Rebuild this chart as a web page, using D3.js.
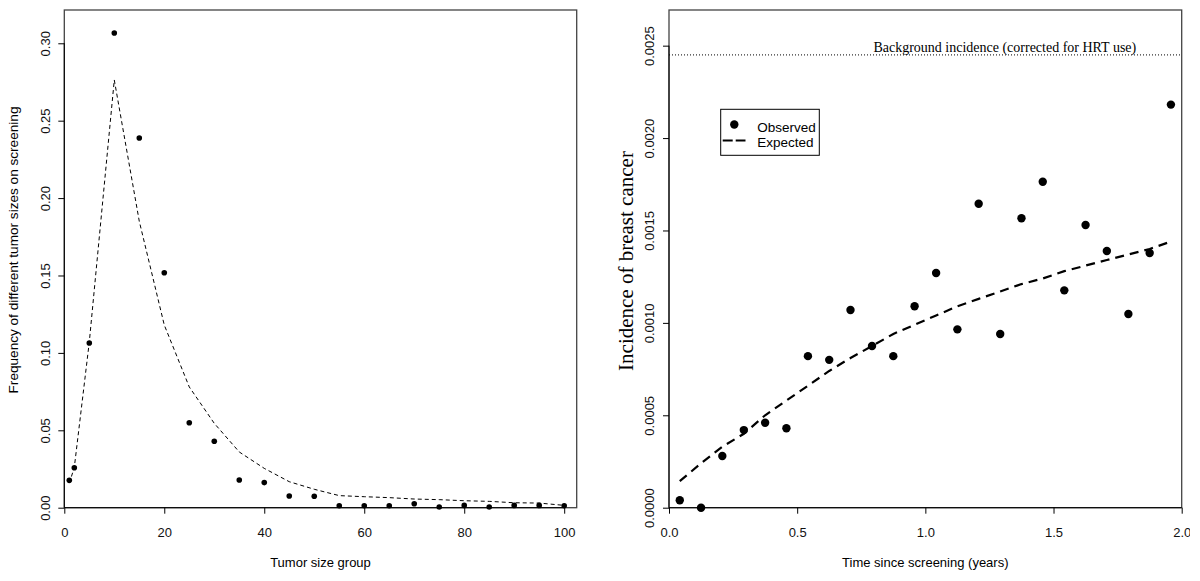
<!DOCTYPE html>
<html><head><meta charset="utf-8">
<script src="https://cdn.jsdelivr.net/npm/d3@7"></script>
<style>body{margin:0;background:#fff}svg{display:block}</style>
</head><body>
<script>
// ---- Left panel data ----
const sizeGroups = [1,2,5,10,15,20,25,30,35,40,45,50,55,60,65,70,75,80,85,90,95,100];
const obsFreq = [0.0177,0.0258,0.1064,0.3066,0.2388,0.1518,0.0549,0.0429,0.0179,0.0162,0.0076,0.0074,0.0013,0.0013,0.0013,0.0026,0.0005,0.0015,0.0005,0.0015,0.0015,0.0013];
const expFreq = [0.0158,0.026,0.107,0.2763,0.185,0.118,0.078,0.0545,0.036,0.0254,0.0168,0.0119,0.0078,0.0071,0.0065,0.0056,0.0052,0.0045,0.0041,0.0032,0.003,0.0015];
const leftXTicks = [0,20,40,60,80,100];
const leftYTicks = [0,0.05,0.10,0.15,0.20,0.25,0.30];

// ---- Right panel data ----
const times = [0.042,0.125,0.208,0.292,0.375,0.458,0.542,0.625,0.708,0.792,0.875,0.958,1.042,1.125,1.208,1.292,1.375,1.458,1.542,1.625,1.708,1.792,1.875,1.958];
const obsInc = [0.00004,0.0000,0.00028,0.00042,0.00046,0.00043,0.00082,0.00080,0.00107,0.000875,0.00082,0.00109,0.00127,0.000965,0.001645,0.00094,0.001566,0.001764,0.001176,0.00153,0.001389,0.001048,0.001378,0.002181];
const expInc = [0.000144,0.00024,0.00033,0.00040,0.00050,0.00058,0.00066,0.00074,0.00081,0.000875,0.00094,0.00099,0.00104,0.00109,0.00113,0.00117,0.00121,0.00124,0.00128,0.00131,0.00134,0.00137,0.00140,0.00144];
const backgroundInc = 0.00245;
const rightXTicks = [0,0.5,1.0,1.5,2.0];
const rightYTicks = [0,0.0005,0.0010,0.0015,0.0020,0.0025];

const SANS = "'Liberation Sans', Arial, sans-serif";
const SERIF = "'Liberation Serif', 'Times New Roman', serif";

const svg = d3.select("body").append("svg").attr("width",1190).attr("height",581);

function panel(o){
  const g = svg.append("g");
  const x = d3.scaleLinear().domain(o.xd).range([o.l,o.r]);
  const y = d3.scaleLinear().domain(o.yd).range([o.b,o.t]);
  g.append("rect").attr("x",o.l).attr("y",o.t).attr("width",o.r-o.l).attr("height",o.b-o.t)
    .attr("fill","none").attr("stroke","#444").attr("stroke-width",1.3);
  const xa = g.append("g").attr("transform",`translate(0,${o.b})`)
    .call(d3.axisBottom(x).tickValues(o.xt).tickFormat(o.xf).tickSize(6).tickPadding(14).tickSizeOuter(0));
  xa.select(".domain").attr("d",`M${x(o.xt[0])},0H${x(o.xt[o.xt.length-1])}`).attr("stroke","#000");
  xa.selectAll("text").attr("font-family",SANS).attr("font-size",13).attr("fill","#111");
  const ya = g.append("g").attr("transform",`translate(${o.l},0)`)
    .call(d3.axisLeft(y).tickValues(o.yt).tickFormat(o.yf).tickSize(6).tickSizeOuter(0));
  ya.select(".domain").attr("d",`M0,${y(o.yt[0])}V${y(o.yt[o.yt.length-1])}`).attr("stroke","#000");
  ya.selectAll(".tick text").attr("font-family",SANS).attr("font-size",13).attr("fill","#111")
    .attr("x",null).attr("dy",null)
    .attr("text-anchor","middle")
    .attr("transform",`translate(${-o.ylabOff},0) rotate(-90)`);
  return {g,x,y};
}

// Left panel
const L = panel({l:64.3,r:576.7,t:10,b:507.7,xd:[0,102.5],yd:[0,0.3215],
  xt:leftXTicks,yt:leftYTicks,xf:d3.format("d"),yf:d3.format(".2f"),ylabOff:14});
L.g.append("path").datum(sizeGroups.map((s,i)=>[s,expFreq[i]]))
  .attr("d",d3.line().x(d=>L.x(d[0])).y(d=>L.y(d[1])))
  .attr("fill","none").attr("stroke","#000").attr("stroke-width",1).attr("stroke-dasharray","4,3");
L.g.selectAll("circle.o").data(sizeGroups).join("circle")
  .attr("cx",d=>L.x(d)).attr("cy",(d,i)=>L.y(obsFreq[i])).attr("r",2.8).attr("fill","#000");
svg.append("text").attr("x",320.5).attr("y",567).attr("text-anchor","middle")
  .attr("font-family",SANS).attr("font-size",13).text("Tumor size group");
svg.append("text").attr("transform","translate(18,250) rotate(-90)").attr("text-anchor","middle")
  .attr("font-family",SANS).attr("font-size",13.6).text("Frequency of different tumor sizes on screening");

// Right panel
const R = panel({l:669,r:1181.7,t:10,b:507.7,xd:[0,2.0],yd:[0,0.002693],
  xt:rightXTicks,yt:rightYTicks,xf:d3.format(".1f"),yf:d3.format(".4f"),ylabOff:15});
R.g.append("line").attr("x1",R.x(0)).attr("x2",R.x(2.0)).attr("y1",R.y(backgroundInc)).attr("y2",R.y(backgroundInc))
  .attr("stroke","#000").attr("stroke-width",1).attr("stroke-dasharray","1,2");
R.g.append("text").attr("x",R.x(1.31)).attr("y",R.y(backgroundInc)-3).attr("text-anchor","middle")
  .attr("font-family",SERIF).attr("font-size",14).text("Background incidence (corrected for HRT use)");
R.g.append("path").datum(times.map((t,i)=>[t,expInc[i]]))
  .attr("d",d3.line().x(d=>R.x(d[0])).y(d=>R.y(d[1])))
  .attr("fill","none").attr("stroke","#000").attr("stroke-width",2.2).attr("stroke-dasharray","9,6");
R.g.selectAll("circle.o").data(times).join("circle")
  .attr("cx",d=>R.x(d)).attr("cy",(d,i)=>R.y(obsInc[i])).attr("r",4.2).attr("fill","#000");
// legend
const lg = svg.append("g");
lg.append("rect").attr("x",720.7).attr("y",109.3).attr("width",98.6).attr("height",46)
  .attr("fill","#fff").attr("stroke","#000").attr("stroke-width",1);
lg.append("circle").attr("cx",734.3).attr("cy",124.5).attr("r",4.2).attr("fill","#000");
lg.append("line").attr("x1",722.7).attr("x2",745.5).attr("y1",140.5).attr("y2",140.5)
  .attr("stroke","#000").attr("stroke-width",2.2).attr("stroke-dasharray","10,3");
lg.append("text").attr("x",757.3).attr("y",131.5).attr("font-family",SANS).attr("font-size",13.5).text("Observed");
lg.append("text").attr("x",757.3).attr("y",146.5).attr("font-family",SANS).attr("font-size",13.5).text("Expected");
svg.append("text").attr("x",925.3).attr("y",567).attr("text-anchor","middle")
  .attr("font-family",SANS).attr("font-size",13).text("Time since screening (years)");
svg.append("text").attr("transform","translate(633,261) rotate(-90)").attr("text-anchor","middle")
  .attr("font-family",SERIF).attr("font-size",21).text("Incidence of breast cancer");
</script>
</body></html>
